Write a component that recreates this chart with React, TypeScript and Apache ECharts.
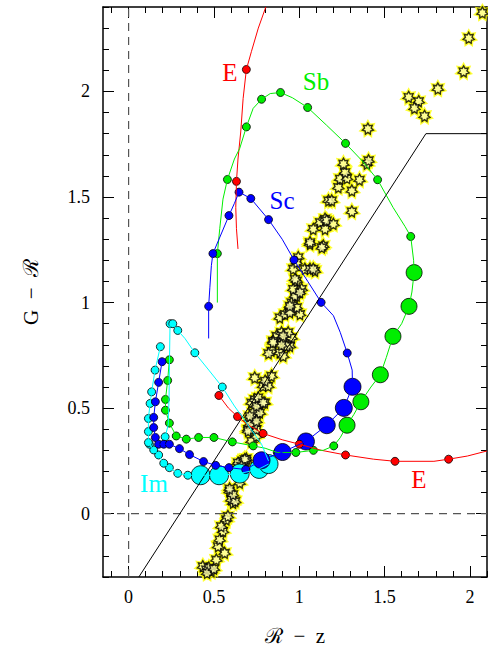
import React, { useEffect, useRef } from "react";
import * as echarts from "echarts";

// ---- axis ticks ----
const xMajorTicks = [0, 0.5, 1, 1.5, 2];
const xMinorTicks = [-0.1, 0, 0.1, 0.2, 0.3, 0.4, 0.5, 0.6, 0.7, 0.8, 0.9, 1, 1.1, 1.2, 1.3, 1.4, 1.5, 1.6, 1.7, 1.8, 1.9, 2, 2.1];
const yMajorTicks = [0, 0.5, 1, 1.5, 2];
const yMinorTicks = [-0.3, -0.2, -0.1, 0, 0.1, 0.2, 0.3, 0.4, 0.5, 0.6, 0.7, 0.8, 0.9, 1, 1.1, 1.2, 1.3, 1.4, 1.5, 1.6, 1.7, 1.8, 1.9, 2, 2.1, 2.2, 2.3, 2.4];

// ---- E track (red) ----
const eLineUpper = [[0.804, 2.4], [0.76, 2.3], [0.72, 2.19], [0.69, 2.104], [0.671, 1.966], [0.657, 1.808], [0.641, 1.68], [0.632, 1.574], [0.628, 1.45], [0.632, 1.35], [0.641, 1.254]];
const eLineLower = [[0.529, 0.56], [0.585, 0.5], [0.638, 0.46], [0.7, 0.42], [0.788, 0.38], [0.9, 0.35], [1.0, 0.329], [1.13, 0.3], [1.271, 0.278], [1.436, 0.258], [1.561, 0.248], [1.789, 0.248], [1.875, 0.258], [1.985, 0.273], [2.1, 0.297]];
const eDots = [[0.69, 2.104], [0.632, 1.574], [0.529, 0.56], [0.638, 0.46], [0.788, 0.38], [1.0, 0.329], [1.271, 0.278], [1.561, 0.248], [1.875, 0.258]];

// ---- Sb track (green) ----
const sbLine = [[0.52, 1.0], [0.52, 1.232], [0.534, 1.35], [0.553, 1.49], [0.579, 1.583], [0.62, 1.68], [0.651, 1.73], [0.69, 1.832], [0.73, 1.92], [0.779, 1.963], [0.83, 1.99], [0.89, 1.995], [0.96, 1.97], [1.049, 1.924], [1.16, 1.84], [1.271, 1.754], [1.37, 1.67], [1.459, 1.582], [1.55, 1.45], [1.62, 1.36], [1.653, 1.313], [1.67, 1.2], [1.673, 1.142], [1.66, 1.05], [1.643, 0.982], [1.6, 0.9], [1.549, 0.84], [1.51, 0.74], [1.475, 0.658], [1.42, 0.6], [1.361, 0.53], [1.32, 0.47], [1.28, 0.419], [1.24, 0.36], [1.202, 0.321], [1.14, 0.3], [1.083, 0.3], [0.98, 0.29], [0.871, 0.29], [0.8, 0.31], [0.73, 0.321], [0.608, 0.34], [0.5, 0.361], [0.41, 0.361], [0.338, 0.353], [0.279, 0.368], [0.239, 0.429], [0.216, 0.49], [0.216, 0.541], [0.229, 0.631], [0.239, 0.729], [0.24, 0.75]];
const sbSmall = [[0.52, 1.232], [0.579, 1.583], [0.69, 1.832], [0.779, 1.963], [0.89, 1.995], [1.049, 1.924], [1.271, 1.754], [1.459, 1.582], [1.653, 1.313], [1.202, 0.321], [1.083, 0.3], [0.98, 0.29], [0.871, 0.29], [0.73, 0.321], [0.608, 0.34], [0.5, 0.361], [0.41, 0.361], [0.338, 0.353], [0.279, 0.368], [0.239, 0.429], [0.216, 0.49], [0.216, 0.541], [0.229, 0.631], [0.239, 0.729]];
const sbBig = [[1.673, 1.142], [1.643, 0.982], [1.549, 0.84], [1.475, 0.658], [1.361, 0.53], [1.28, 0.419]];

// ---- Sc track (blue) ----
const scLine = [[0.196, 0.72], [0.176, 0.622], [0.157, 0.53], [0.147, 0.456], [0.147, 0.408], [0.157, 0.361], [0.176, 0.329], [0.206, 0.329], [0.239, 0.329], [0.298, 0.308], [0.357, 0.28], [0.439, 0.247], [0.51, 0.229], [0.588, 0.218], [0.686, 0.209], [0.779, 0.253], [0.902, 0.292], [1.039, 0.342], [1.161, 0.419], [1.261, 0.501], [1.312, 0.601], [1.31, 0.68], [1.281, 0.761], [1.24, 0.859], [1.2, 0.938], [1.128, 1.001], [1.05, 1.1], [0.969, 1.202], [0.9, 1.3], [0.82, 1.393], [0.716, 1.493], [0.647, 1.523], [0.62, 1.47], [0.588, 1.412], [0.54, 1.32], [0.494, 1.232], [0.485, 1.175], [0.476, 1.07], [0.469, 0.982], [0.469, 0.83]];
const scSmall = [[0.196, 0.72], [0.176, 0.622], [0.157, 0.53], [0.147, 0.456], [0.147, 0.408], [0.157, 0.361], [0.176, 0.329], [0.206, 0.329], [0.239, 0.329], [0.298, 0.308], [0.357, 0.28], [0.439, 0.247], [0.51, 0.229], [0.588, 0.218], [0.686, 0.209], [1.281, 0.761], [1.128, 1.001], [0.969, 1.202], [0.82, 1.393], [0.716, 1.493], [0.647, 1.523], [0.588, 1.412], [0.494, 1.232], [0.469, 0.982]];
const scBig = [[0.779, 0.253], [0.902, 0.292], [1.039, 0.342], [1.161, 0.419], [1.261, 0.501], [1.312, 0.601]];

// ---- Im track (cyan) ----
const imLineA = [[0.82, 0.235], [0.765, 0.212], [0.651, 0.19], [0.53, 0.182], [0.422, 0.182], [0.347, 0.182], [0.288, 0.191], [0.239, 0.218], [0.206, 0.239], [0.176, 0.278], [0.147, 0.302], [0.122, 0.329], [0.116, 0.337], [0.116, 0.389], [0.116, 0.451], [0.126, 0.522], [0.135, 0.577], [0.155, 0.68], [0.186, 0.791]];
const imLineB = [[0.82, 0.25], [0.779, 0.329], [0.7, 0.42], [0.62, 0.51], [0.549, 0.6], [0.47, 0.68], [0.388, 0.762], [0.33, 0.83], [0.288, 0.868], [0.259, 0.9], [0.243, 0.9], [0.24, 0.75], [0.237, 0.55], [0.232, 0.42], [0.214, 0.364]];
const imSmall = [[0.347, 0.182], [0.288, 0.191], [0.239, 0.218], [0.206, 0.239], [0.176, 0.278], [0.147, 0.302], [0.122, 0.329], [0.116, 0.337], [0.116, 0.389], [0.116, 0.451], [0.126, 0.522], [0.135, 0.577], [0.155, 0.68], [0.186, 0.791], [0.243, 0.9], [0.259, 0.9], [0.288, 0.868], [0.388, 0.762], [0.549, 0.6], [0.214, 0.364]];
const imBig = [[0.422, 0.182], [0.53, 0.182], [0.651, 0.19], [0.765, 0.212], [0.82, 0.235]];

// ---- observed galaxies (stars) ----
const stars = [
  [0.435, -0.249], [0.455, -0.264], [0.485, -0.272], [0.47, -0.255], [0.46, -0.28], [0.5, -0.26],
  [0.514, -0.217], [0.563, -0.185], [0.524, -0.154], [0.534, -0.122], [0.553, -0.082], [0.543, -0.059],
  [0.573, -0.027], [0.582, -0.011], [0.612, 0.052], [0.602, 0.068], [0.625, 0.06], [0.592, 0.107],
  [0.612, 0.092], [0.592, 0.119], [0.651, 0.147], [0.661, 0.242], [0.641, 0.226], [0.69, 0.25],
  [0.671, 0.25], [0.69, 0.261], [0.641, 0.242], [0.68, 0.258], [0.661, 0.226],
  [0.72, 0.345], [0.749, 0.368], [0.7, 0.4], [0.749, 0.4], [0.71, 0.448], [0.749, 0.47], [0.72, 0.527],
  [0.769, 0.519], [0.798, 0.527], [0.739, 0.424], [0.71, 0.424], [0.7, 0.392], [0.729, 0.479],
  [0.769, 0.479], [0.749, 0.44], [0.71, 0.463], [0.739, 0.542], [0.749, 0.511], [0.759, 0.551], [0.788, 0.527],
  [0.788, 0.606], [0.818, 0.606], [0.739, 0.645], [0.837, 0.653], [0.8, 0.63],
  [0.837, 0.772], [0.886, 0.764], [0.906, 0.748], [0.82, 0.76], [0.867, 0.843], [0.847, 0.819],
  [0.906, 0.827], [0.955, 0.835], [0.945, 0.795], [0.896, 0.859], [0.935, 0.859], [0.926, 0.795],
  [0.847, 0.812], [0.906, 0.843], [0.896, 0.8],
  [0.886, 0.93], [0.916, 0.946], [0.945, 0.962], [1.004, 0.946], [0.985, 0.978], [0.955, 1.001],
  [0.985, 1.033], [1.014, 1.065], [0.945, 0.954], [0.975, 1.033], [0.945, 0.985], [0.965, 1.065], [1.004, 1.049],
  [0.985, 1.104], [0.975, 1.112], [0.965, 1.16], [1.033, 1.16], [1.092, 1.151], [1.063, 1.16],
  [0.994, 1.215], [0.985, 1.191], [1.063, 1.278], [1.141, 1.27], [1.132, 1.262], [1.063, 1.286], [1.082, 1.16],
  [1.082, 1.349], [1.122, 1.381], [1.151, 1.397], [1.151, 1.349], [1.161, 1.389], [1.2, 1.373],
  [1.171, 1.484], [1.19, 1.484], [1.308, 1.432],
  [1.229, 1.547], [1.308, 1.531], [1.239, 1.587], [1.28, 1.59], [1.353, 1.582], [1.269, 1.618],
  [1.259, 1.658], [1.396, 1.658], [1.406, 1.674],
  [1.402, 1.824], [1.641, 1.974], [1.7, 1.954], [1.675, 1.922], [1.734, 1.884], [1.812, 2.014],
  [1.963, 2.095], [1.993, 2.254], [2.073, 2.374],
];

// ---- reference lines ----
const cutLine = [[0.06, -0.3], [1.742, 1.8], [2.1, 1.8]];
const zeroX = [[0, -0.3], [0, 2.4]];
const zeroY = [[-0.15, 0], [2.1, 0]];

const X_MIN = -0.15, X_MAX = 2.1, Y_MIN = -0.3, Y_MAX = 2.4;

function starPath(n: number, inner: number): string {
  let d = "path://";
  for (let i = 0; i < 2 * n; i++) {
    const a = (i * Math.PI) / n - Math.PI / 2;
    const r = i % 2 === 0 ? 10 : 10 * inner;
    const px = (10 + r * Math.cos(a)).toFixed(2);
    const py = (10 + r * Math.sin(a)).toFixed(2);
    d += (i === 0 ? "M" : "L") + px + "," + py;
  }
  return d + "Z";
}

export default function App() {
  const ref = useRef<HTMLDivElement>(null);
  useEffect(() => {
    if (!ref.current) return;
    const chart = echarts.init(ref.current, undefined, { renderer: "svg" });
    const serif = "'Liberation Serif', 'DejaVu Serif', serif";
    const STAR = starPath(7, 0.6);

    const xAx = (pos: string, major: boolean, main: boolean) => ({
      type: "value",
      min: X_MIN,
      max: X_MAX,
      position: pos,
      axisLine: { show: main, onZero: false, lineStyle: { color: "#000", width: 1.5 } },
      axisTick: {
        show: true,
        inside: true,
        length: major ? 11 : 6,
        customValues: major ? xMajorTicks : xMinorTicks,
        lineStyle: { color: "#000", width: 1 },
      },
      axisLabel: main && pos === "bottom"
        ? { show: true, customValues: xMajorTicks, color: "#000", fontFamily: serif, fontSize: 18, margin: 11 }
        : { show: false },
      splitLine: { show: false },
      name: main && pos === "bottom" ? "ℛ  −  z" : "",
      nameLocation: "middle",
      nameGap: 48,
      nameTextStyle: { fontFamily: serif, fontSize: 21, color: "#000" },
    });
    const yAx = (pos: string, major: boolean, main: boolean) => ({
      type: "value",
      min: Y_MIN,
      max: Y_MAX,
      position: pos,
      axisLine: { show: main, onZero: false, lineStyle: { color: "#000", width: 1.5 } },
      axisTick: {
        show: true,
        inside: true,
        length: major ? 11 : 6,
        customValues: major ? yMajorTicks : yMinorTicks,
        lineStyle: { color: "#000", width: 1 },
      },
      axisLabel: main && pos === "left"
        ? { show: true, customValues: yMajorTicks, color: "#000", fontFamily: serif, fontSize: 18, margin: 13 }
        : { show: false },
      splitLine: { show: false },
      name: main && pos === "left" ? "G  −  ℛ" : "",
      nameLocation: "middle",
      nameGap: 62,
      nameRotate: 90,
      nameTextStyle: { fontFamily: serif, fontSize: 21, color: "#000" },
    });

    const line = (data: number[][], color: string, width = 1, type: any = "solid") => ({
      type: "line",
      data,
      showSymbol: false,
      symbol: "none",
      silent: true,
      lineStyle: { color, width, type },
      xAxisIndex: 0,
      yAxisIndex: 0,
    });
    const dots = (data: number[][], color: string, size: number) => ({
      type: "scatter",
      data,
      symbol: "circle",
      symbolSize: size,
      itemStyle: { color, borderColor: "#000", borderWidth: 0.8, opacity: 1 },
      xAxisIndex: 0,
      yAxisIndex: 0,
    });

    const RED = "#ff0000", GREEN = "#00ee00", BLUE = "#0000ff", CYAN = "#00ffff";

    chart.setOption({
      animation: false,
      grid: { left: 103, right: 1, top: 7, bottom: 70, containLabel: false, outerBoundsMode: "none" },
      xAxis: [xAx("bottom", true, true), xAx("bottom", false, false), xAx("top", true, true), xAx("top", false, false)],
      yAxis: [yAx("left", true, true), yAx("left", false, false), yAx("right", true, true), yAx("right", false, false)],
      series: [
        line(zeroX, "#555", 1.2, [8, 6]),
        line(zeroY, "#555", 1.2, [8, 6]),
        {
          type: "scatter", data: stars, symbol: STAR, symbolSize: 13,
          itemStyle: { color: "#ffff00", borderColor: "#ffff00", borderWidth: 3 },
        },
        {
          type: "scatter", data: stars, symbol: STAR, symbolSize: 11,
          itemStyle: { color: "#ffffaa", borderColor: "#000", borderWidth: 1.4 },
        },
        line(cutLine, "#000", 1),
        line(eLineUpper, RED),
        line(eLineLower, RED),
        line(sbLine, GREEN),
        line(scLine, BLUE),
        line(imLineA, CYAN),
        line(imLineB, CYAN),
        dots(imBig, CYAN, 19),
        dots(imSmall, CYAN, 8),
        dots(sbBig, GREEN, 16),
        dots(sbSmall, GREEN, 8),
        dots(scBig, BLUE, 17),
        dots(scSmall, BLUE, 8),
        dots(eDots, RED, 8),
      ],
      graphic: [
        { type: "text", x: 230, y: 72, style: { text: "E", fill: RED, fontFamily: serif, fontSize: 25, align: "center", verticalAlign: "middle", textAlign: "center", textVerticalAlign: "middle" } },
        { type: "text", x: 316, y: 81, style: { text: "Sb", fill: GREEN, fontFamily: serif, fontSize: 25, align: "center", verticalAlign: "middle", textAlign: "center", textVerticalAlign: "middle" } },
        { type: "text", x: 282, y: 200, style: { text: "Sc", fill: BLUE, fontFamily: serif, fontSize: 25, align: "center", verticalAlign: "middle", textAlign: "center", textVerticalAlign: "middle" } },
        { type: "text", x: 154, y: 483, style: { text: "Im", fill: CYAN, fontFamily: serif, fontSize: 25, align: "center", verticalAlign: "middle", textAlign: "center", textVerticalAlign: "middle" } },
        { type: "text", x: 419, y: 479, style: { text: "E", fill: RED, fontFamily: serif, fontSize: 25, align: "center", verticalAlign: "middle", textAlign: "center", textVerticalAlign: "middle" } },
      ],
    });
    return () => chart.dispose();
  }, []);
  return <div ref={ref} style={{ position: "absolute", left: 0, top: 0, width: 488, height: 647, background: "#fff" }} />;
}
